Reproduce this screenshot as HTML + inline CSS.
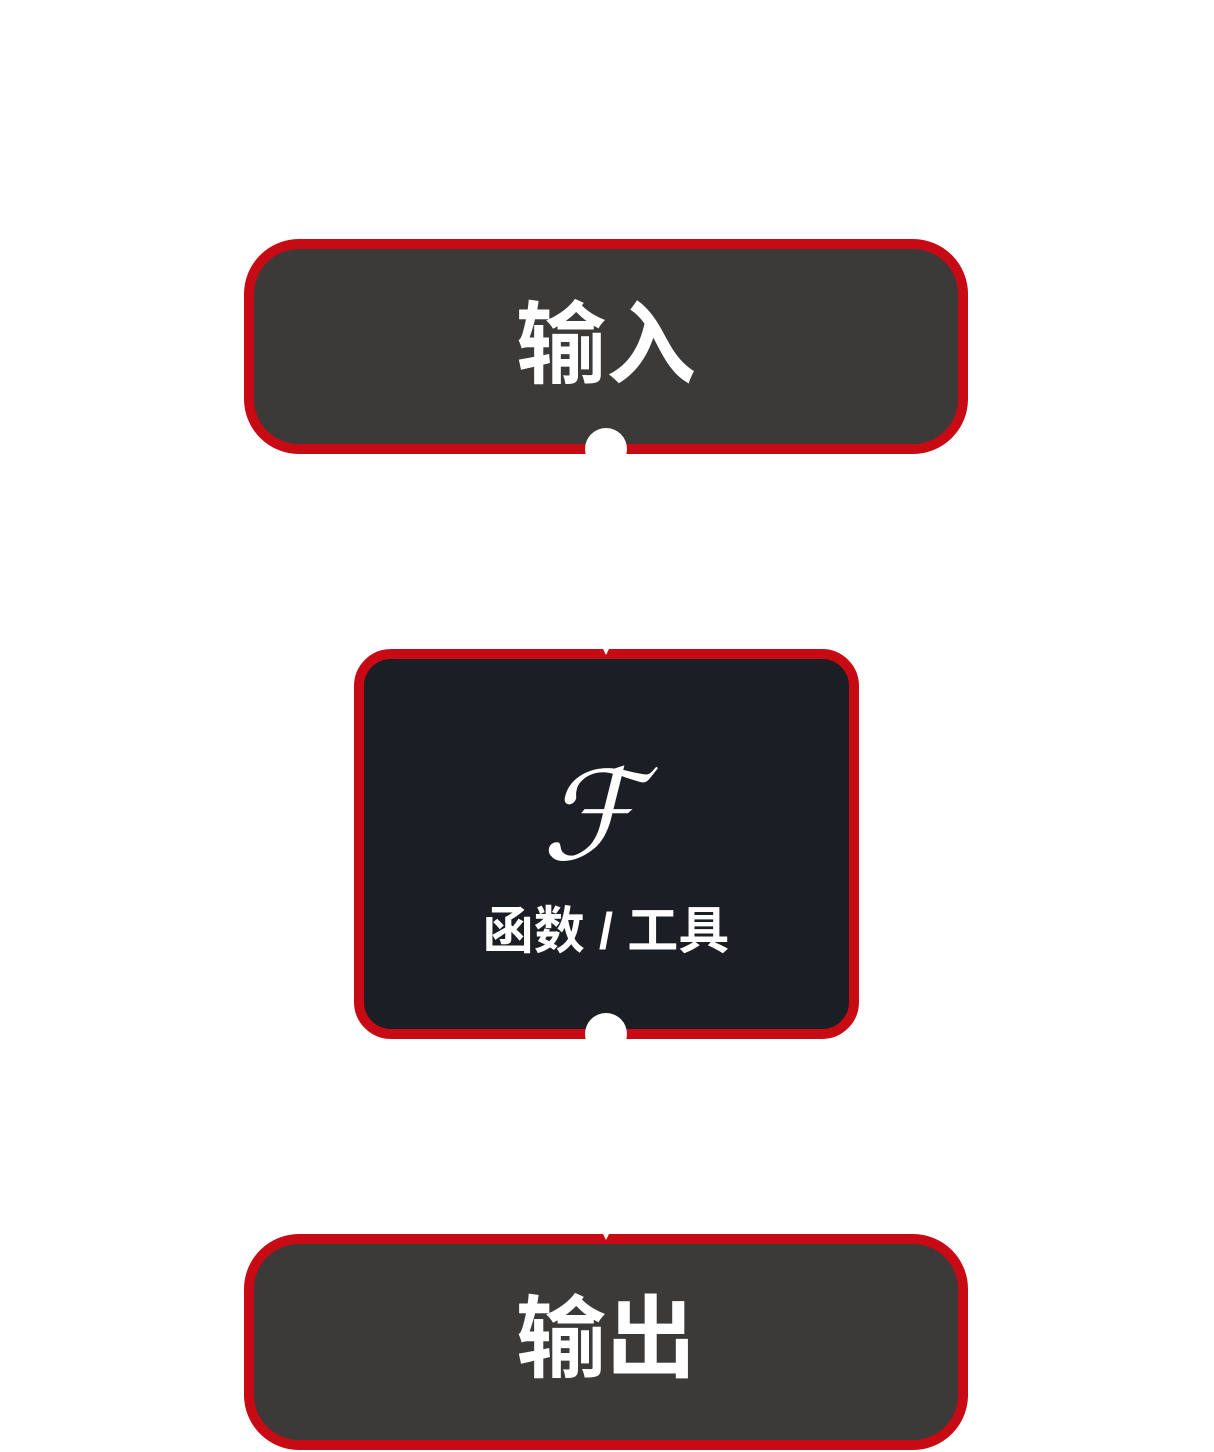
<!DOCTYPE html>
<html>
<head>
<meta charset="utf-8">
<style>
html,body{margin:0;padding:0;background:#fff;}
svg{display:block;}
</style>
</head>
<body>
<svg width="1214" height="1452" viewBox="0 0 1214 1452" xmlns="http://www.w3.org/2000/svg">
  <rect x="0" y="0" width="1214" height="1452" fill="#ffffff"/>

  <!-- Box 1 -->
  <rect x="249" y="244" width="714" height="205" rx="50" ry="50" fill="#3b3a38" stroke="#c80a14" stroke-width="10"/>
  <text x="606" y="346" text-anchor="middle" dominant-baseline="central" font-family="'Liberation Sans','Noto Sans CJK SC',sans-serif" font-weight="700" font-size="90" fill="#ffffff">输入</text>
  <circle cx="606" cy="449" r="21" fill="#ffffff"/>

  <!-- Box 2 -->
  <rect x="359" y="654" width="495" height="380" rx="32" ry="32" fill="#1b1e24" stroke="#c80a14" stroke-width="10"/>
  <polygon points="603,649 609,649 606,655" fill="#ffffff"/>
  <text x="590" y="817" text-anchor="middle" dominant-baseline="central" font-family="'DejaVu Serif','Liberation Serif',serif" font-style="italic" font-size="124" fill="#ffffff">ℱ</text>
  <text x="606" y="931" text-anchor="middle" dominant-baseline="central" font-family="'Liberation Sans','Noto Sans CJK SC',sans-serif" font-weight="700" font-size="51" fill="#ffffff">函数 / 工具</text>
  <circle cx="606" cy="1034" r="21" fill="#ffffff"/>

  <!-- Box 3 -->
  <rect x="249" y="1239" width="714" height="206" rx="50" ry="50" fill="#3b3a38" stroke="#c80a14" stroke-width="10"/>
  <polygon points="603,1234 609,1234 606,1240" fill="#ffffff"/>
  <text x="606" y="1340" text-anchor="middle" dominant-baseline="central" font-family="'Liberation Sans','Noto Sans CJK SC',sans-serif" font-weight="700" font-size="90" fill="#ffffff">输出</text>
</svg>
</body>
</html>
